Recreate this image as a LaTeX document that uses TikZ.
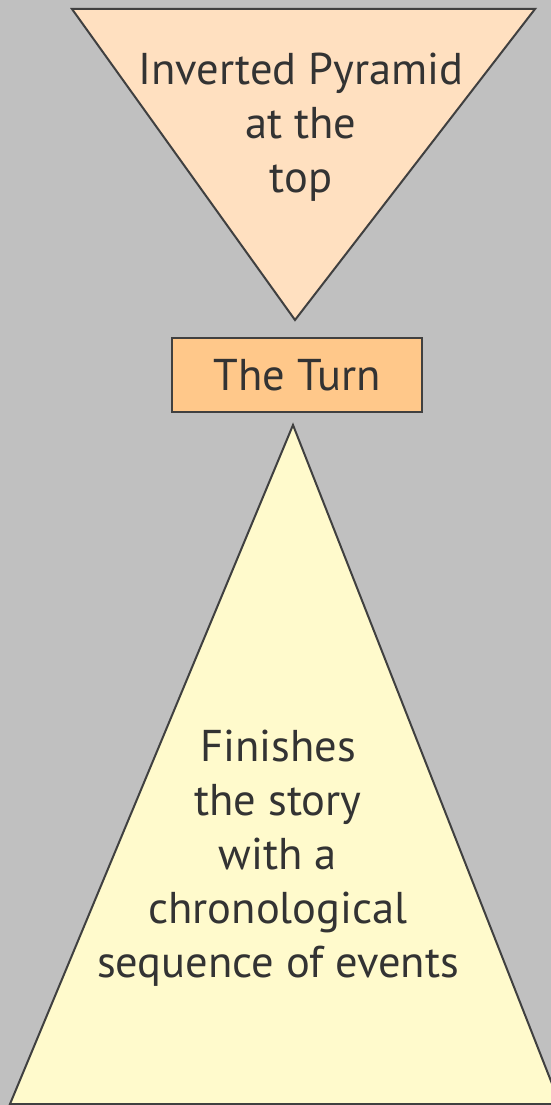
\documentclass[tikz,border=0pt]{standalone}
\usepackage{fontspec}
\setmainfont{PT Sans}
\begin{document}
\begin{tikzpicture}[x=1pt,y=-1pt,
  shapeline/.style={draw=black!75, line width=2pt, line join=miter},
  lbl/.style={text=black!80, font=\fontsize{44.5}{54}\selectfont, align=center, inner sep=0pt}]
\useasboundingbox (0,0) rectangle (551,1105);
\definecolor{bggray}{RGB}{192,192,192}
\definecolor{peach}{RGB}{255,224,192}
\definecolor{turn}{RGB}{255,200,138}
\definecolor{cream}{RGB}{255,250,204}
\fill[bggray] (0,0) rectangle (551,1105);
% top inverted triangle
\coordinate (tl) at (72,9);
\coordinate (tr) at (535,9);
\coordinate (tb) at (295,320);
\filldraw[shapeline, fill=peach] (tl) -- (tr) -- (tb) -- cycle;
\node[lbl] (toptext) at (301,127) {Inverted Pyramid\\at the\\top};
% the turn
\node[shapeline, fill=turn, minimum width=250pt, minimum height=74pt, inner sep=0pt,
  text=black!80, font=\fontsize{44.5}{54}\selectfont] (turn) at (297,375) {The Turn};
% bottom triangle
\coordinate (ba) at (293,425);
\coordinate (bl) at (10,1104);
\coordinate (br) at (560,1104);
\filldraw[shapeline, fill=cream] (ba) -- (br) -- (bl) -- cycle;
\node[lbl] (bottext) at (278,858) {Finishes\\the story\\with a\\chronological\\sequence of events};
\end{tikzpicture}
\end{document}
